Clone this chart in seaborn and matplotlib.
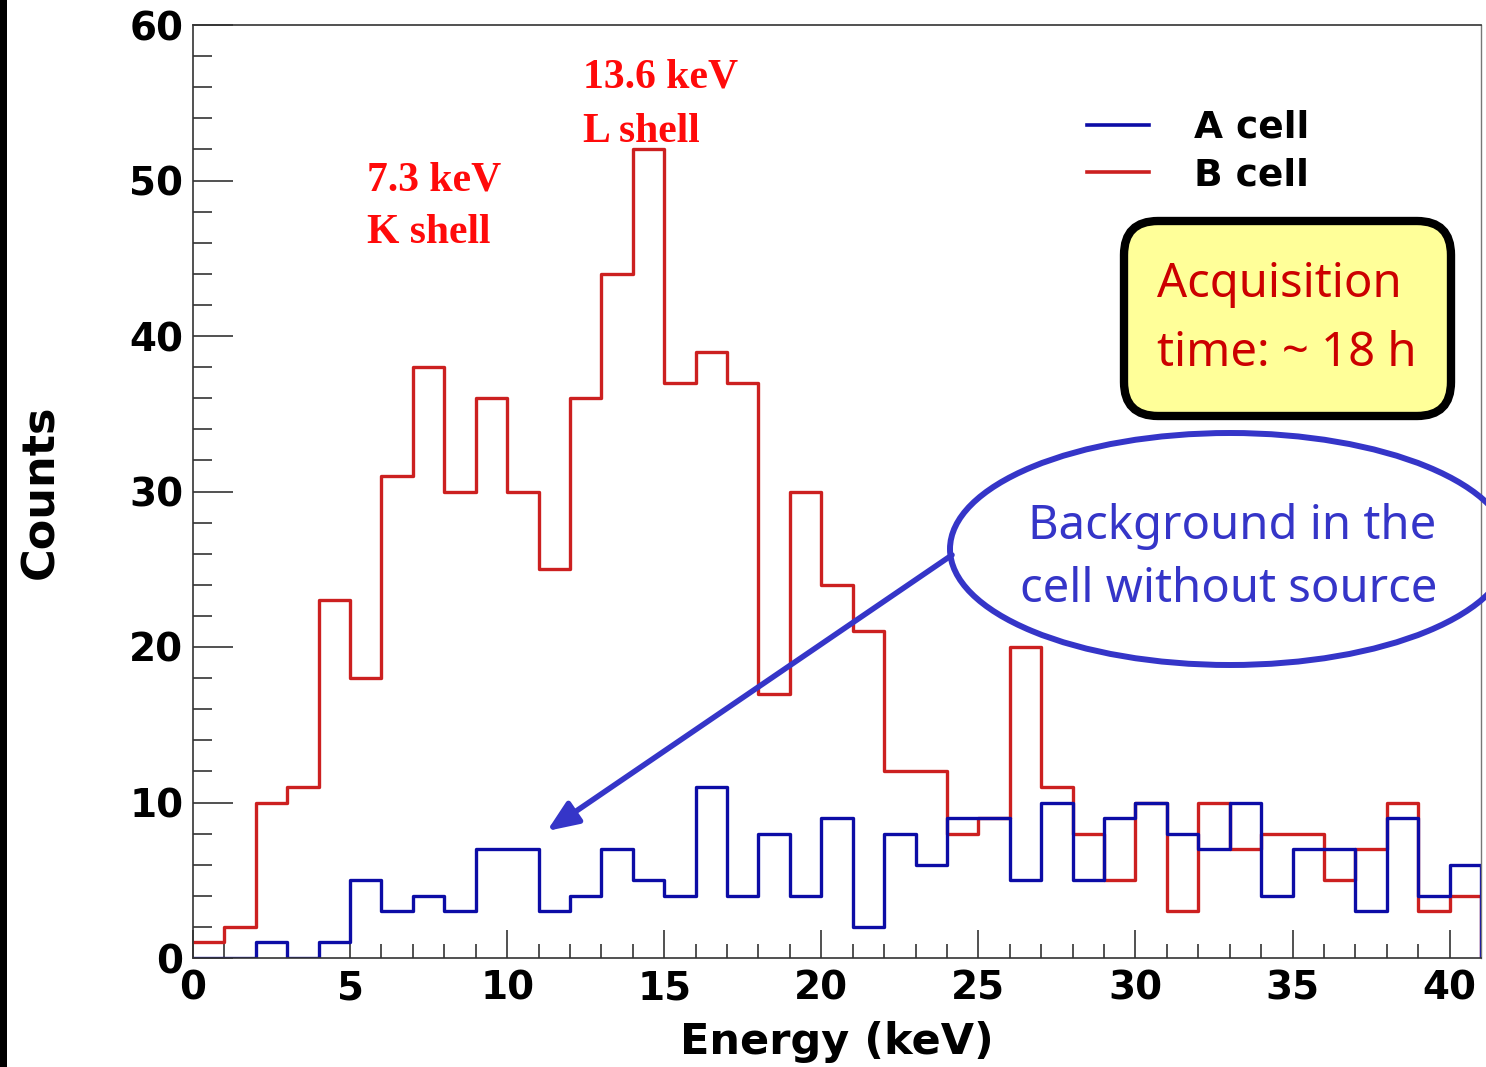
import numpy as np
import pandas as pd
import matplotlib
matplotlib.use("Agg")
import matplotlib.pyplot as plt
import seaborn as sns
from matplotlib.patches import FancyBboxPatch, Ellipse, FancyArrowPatch, Rectangle
from matplotlib.transforms import IdentityTransform
from matplotlib.ticker import MultipleLocator

# ---------------- data ----------------
bin_edges = list(range(0, 43))          # 1 keV bins, 0..42 keV
energy_centers = [e + 0.5 for e in range(0, 41)]
counts_a = [0, 0, 1, 0, 1, 5, 3, 4, 3, 7, 7, 3, 4, 7, 5, 4, 11, 4, 8, 4, 9,
            2, 8, 6, 9, 9, 5, 10, 5, 9, 10, 8, 7, 10, 4, 7, 7, 3, 9, 4, 6]
counts_b = [1, 2, 10, 11, 23, 18, 31, 38, 30, 36, 30, 25, 36, 44, 52, 37, 39, 37, 17, 30, 24,
            21, 12, 12, 8, 9, 20, 11, 8, 5, 10, 3, 10, 7, 8, 8, 5, 7, 10, 3, 4]
series_labels = ["A cell", "B cell"]
x_ticks = [0, 5, 10, 15, 20, 25, 30, 35, 40]
y_ticks = [0, 10, 20, 30, 40, 50, 60]

peak_labels = [("13.6 keV", "L shell"), ("7.3 keV", "K shell")]
box_lines = ["Acquisition", "time: ~ 18 h"]
ellipse_lines = ["Background in the", "cell without source"]

df = pd.DataFrame({
    "energy": energy_centers * 2,
    "counts": counts_a + counts_b,
    "cell": [series_labels[0]] * 41 + [series_labels[1]] * 41,
})

BLUE = "#0c0ca6"
RED = "#cc2020"
ANN_BLUE = "#3535c8"

W, H = 1486, 1067
fig = plt.figure(figsize=(W / 100, H / 100), dpi=100)
ax = fig.add_axes([193 / W, 1 - 958 / H, (1481 - 193) / W, (958 - 25) / H])

sub_b = df[df.cell == series_labels[1]]
sub_a = df[df.cell == series_labels[0]]
sns.histplot(data=sub_b, x="energy", weights="counts", bins=bin_edges,
             element="step", fill=False, color=RED, linewidth=2.4, ax=ax,
             label=series_labels[1])
sns.histplot(data=sub_a, x="energy", weights="counts", bins=bin_edges,
             element="step", fill=False, color=BLUE, linewidth=2.4, ax=ax,
             label=series_labels[0])

ax.set_xlim(0, 41)
ax.set_ylim(0, 60)
ax.set_xticks(x_ticks)
ax.set_yticks(y_ticks)
ax.xaxis.set_minor_locator(MultipleLocator(1))
ax.yaxis.set_minor_locator(MultipleLocator(2))
tick_font = dict(family="DejaVu Sans", weight="bold", size=28)
ax.set_xticklabels([str(t) for t in x_ticks], **tick_font)
ax.set_yticklabels([str(t) for t in y_ticks], **tick_font)
ax.tick_params(axis="x", which="major", direction="in", length=20, width=1.1,
               pad=8, color="#222222", top=False)
ax.tick_params(axis="x", which="minor", direction="in", length=10, width=1.1,
               color="#222222", top=False)
ax.tick_params(axis="y", which="major", direction="in", length=29, width=1.1,
               pad=7, color="#222222", right=False)
ax.tick_params(axis="y", which="minor", direction="in", length=14, width=1.1,
               color="#222222", right=False)
for s in ["left", "bottom", "top"]:
    ax.spines[s].set_color("#333333")
    ax.spines[s].set_linewidth(1.2)
ax.spines["right"].set_color("#777777")
ax.spines["right"].set_linewidth(1.0)

ax.set_xlabel("Energy (keV)", family="DejaVu Sans", weight="bold", size=31, labelpad=10)
ax.set_ylabel("Counts", family="DejaVu Sans", weight="bold", size=32, labelpad=48)

# legend
lines = ax.get_lines()
handles = [lines[1], lines[0]]
leg = ax.legend(handles=handles, labels=series_labels, frameon=False,
                loc="upper left", bbox_to_anchor=(1087 / W, 1 - 110 / H),
                bbox_transform=fig.transFigure, borderpad=0, borderaxespad=0,
                handlelength=1.65, handletextpad=1.2, labelspacing=0.3,
                prop=dict(family="DejaVu Sans", weight="bold", size=27))
for lh in leg.get_lines():
    lh.set_linewidth(2.6)

# peak annotations (red serif)
serif = dict(family="Liberation Serif", weight="bold", size=30, color="#ff0a0a")
ax.text(12.41, 56.6, peak_labels[0][0], va="center", ha="left", **serif)
ax.text(12.41, 53.15, peak_labels[0][1], va="center", ha="left", **serif)
ax.text(5.54, 50.0, peak_labels[1][0], va="center", ha="left", **serif)
ax.text(5.54, 46.6, peak_labels[1][1], va="center", ha="left", **serif)

ident = IdentityTransform()

# yellow box
box = FancyBboxPatch((1124, H - 416), 1451 - 1124, 416 - 221,
                     boxstyle="round,pad=0,rounding_size=34",
                     facecolor="#ffff99", edgecolor="black", linewidth=6,
                     transform=ident)
fig.add_artist(box)
fig.text(1157, H - 284, box_lines[0], transform=ident, ha="left", va="center",
         family="Noto Sans", size=34, color="#cc0000")
fig.text(1157, H - 354, box_lines[1], transform=ident, ha="left", va="center",
         family="Noto Sans", size=34, color="#cc0000")

# ellipse + text
ell = Ellipse((1230, H - 549), 560, 232, facecolor="none", edgecolor=ANN_BLUE,
              linewidth=4.3, transform=ident)
fig.add_artist(ell)
fig.text(1232, H - 527, ellipse_lines[0], transform=ident, ha="center", va="center",
         family="Noto Sans", size=34, color=ANN_BLUE)
fig.text(1229, H - 589, ellipse_lines[1], transform=ident, ha="center", va="center",
         family="Noto Sans", size=34, color=ANN_BLUE)

# arrow
arr = FancyArrowPatch((952, H - 555), (547, H - 831), transform=ident,
                      arrowstyle="-|>,head_length=0.85,head_width=0.35",
                      mutation_scale=22, linewidth=4.0, color=ANN_BLUE,
                      shrinkA=0, shrinkB=0)
fig.add_artist(arr)

# dark strip at the left border
fig.add_artist(Rectangle((0, 0), 7, H, transform=ident, facecolor="black",
                         edgecolor="none"))

fig.savefig("out.png", dpi=100)
